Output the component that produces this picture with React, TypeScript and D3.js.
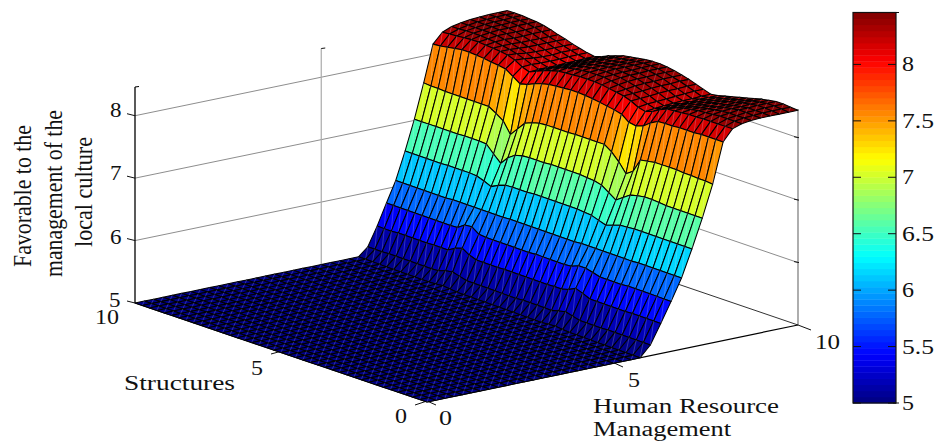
import React from "react";
import * as d3 from "d3";

// ---------- Data ----------
const hrmGrid = d3.range(0, 10.01, 0.25);
const structuresGrid = d3.range(0, 10.01, 0.25);
const colorTicks = ["5", "5.5", "6", "6.5", "7", "7.5", "8"];
const zTicks = [5, 6, 7, 8];
const floorLevel = 5;
const cMin = 5;
const cMax = 8.46;

const floorRow = structuresGrid.map(() => floorLevel);
const h600 = [5.0,5.0,5.0,5.0,5.0,5.0,5.0,5.0,5.0,5.0,5.0,5.01,5.02,5.01,5.0,5.0,5.0,5.0,5.0,5.0,5.0,5.0,5.0,5.0,5.0,5.0,5.0,5.01,5.02,5.01,5.0,5.0,5.0,5.0,5.0,5.0,5.0,5.0,5.0,5.0,5.0];
const h625 = [5.17,5.17,5.17,5.17,5.17,5.17,5.17,5.16,5.16,5.16,5.16,5.19,5.22,5.19,5.16,5.16,5.16,5.16,5.16,5.15,5.15,5.15,5.15,5.15,5.15,5.15,5.15,5.18,5.21,5.19,5.15,5.14,5.14,5.14,5.14,5.14,5.14,5.14,5.13,5.13,5.13];
const h650 = [5.48,5.48,5.48,5.48,5.48,5.47,5.47,5.47,5.47,5.47,5.47,5.52,5.56,5.50,5.47,5.47,5.46,5.46,5.46,5.46,5.46,5.46,5.46,5.45,5.45,5.45,5.45,5.49,5.56,5.52,5.45,5.45,5.45,5.44,5.44,5.44,5.44,5.44,5.43,5.43,5.43];
const h675 = [5.80,5.80,5.80,5.80,5.80,5.80,5.80,5.79,5.79,5.79,5.79,5.82,5.85,5.85,5.80,5.79,5.79,5.79,5.79,5.79,5.78,5.78,5.78,5.78,5.78,5.78,5.78,5.79,5.87,5.86,5.78,5.77,5.77,5.77,5.77,5.77,5.77,5.77,5.77,5.77,5.77];
const h700 = [6.14,6.14,6.14,6.14,6.14,6.14,6.14,6.13,6.13,6.13,6.13,6.13,6.13,6.13,6.13,6.12,6.12,6.12,6.12,6.12,6.12,6.12,6.12,6.12,6.12,6.11,6.11,6.11,6.11,6.11,6.11,6.11,6.11,6.10,6.10,6.10,6.10,6.10,6.10,6.10,6.10];
const h725 = [6.57,6.57,6.57,6.57,6.57,6.57,6.57,6.57,6.57,6.56,6.55,6.51,6.47,6.51,6.55,6.56,6.57,6.57,6.57,6.57,6.57,6.57,6.57,6.56,6.56,6.56,6.55,6.51,6.45,6.50,6.54,6.55,6.55,6.55,6.55,6.54,6.54,6.54,6.54,6.54,6.54];
const h750 = [7.03,7.03,7.03,7.03,7.03,7.03,7.04,7.05,7.05,7.03,7.00,6.92,6.84,6.92,7.00,7.03,7.04,7.05,7.05,7.05,7.05,7.05,7.04,7.04,7.04,7.03,7.00,6.92,6.79,6.90,7.02,7.03,7.03,7.03,7.02,7.02,7.02,7.02,7.02,7.02,7.02];
const h775 = [7.54,7.55,7.55,7.56,7.56,7.57,7.57,7.57,7.57,7.55,7.53,7.31,7.23,7.38,7.50,7.58,7.58,7.58,7.58,7.58,7.57,7.57,7.57,7.57,7.56,7.53,7.48,7.35,7.22,7.40,7.48,7.55,7.55,7.55,7.55,7.55,7.55,7.55,7.56,7.56,7.57];
const h800 = [8.18,8.18,8.18,8.18,8.17,8.17,8.17,8.16,8.16,8.15,8.09,8.00,7.96,7.98,8.07,8.10,8.12,8.14,8.16,8.17,8.18,8.18,8.17,8.16,8.15,8.12,8.08,8.03,8.00,8.08,8.16,8.18,8.19,8.21,8.22,8.23,8.23,8.21,8.19,8.17,8.16];
const h825 = [8.36,8.36,8.36,8.36,8.36,8.35,8.35,8.34,8.33,8.32,8.27,8.20,8.16,8.19,8.25,8.29,8.31,8.33,8.35,8.36,8.36,8.36,8.35,8.34,8.33,8.30,8.26,8.21,8.16,8.20,8.27,8.31,8.33,8.34,8.35,8.36,8.36,8.35,8.34,8.33,8.32];
const h850 = [8.41,8.41,8.41,8.41,8.40,8.39,8.38,8.36,8.34,8.31,8.27,8.22,8.18,8.21,8.26,8.30,8.33,8.36,8.38,8.40,8.40,8.40,8.39,8.37,8.35,8.31,8.27,8.22,8.17,8.21,8.26,8.30,8.33,8.35,8.37,8.38,8.39,8.39,8.39,8.38,8.38];
const h875 = [8.43,8.43,8.43,8.43,8.42,8.40,8.38,8.36,8.33,8.30,8.27,8.23,8.19,8.22,8.27,8.31,8.35,8.38,8.40,8.41,8.42,8.41,8.40,8.38,8.35,8.31,8.27,8.22,8.17,8.20,8.24,8.28,8.32,8.35,8.38,8.40,8.41,8.41,8.41,8.41,8.41];
const h900 = [8.44,8.44,8.45,8.45,8.43,8.41,8.38,8.35,8.33,8.30,8.27,8.23,8.20,8.23,8.28,8.32,8.36,8.39,8.41,8.42,8.43,8.42,8.40,8.38,8.35,8.31,8.27,8.22,8.17,8.20,8.23,8.27,8.31,8.34,8.37,8.40,8.42,8.43,8.43,8.43,8.43];
const h925 = [8.44,8.45,8.45,8.45,8.43,8.41,8.38,8.36,8.33,8.30,8.27,8.23,8.21,8.24,8.29,8.33,8.36,8.39,8.41,8.42,8.43,8.42,8.40,8.38,8.36,8.31,8.27,8.22,8.18,8.20,8.23,8.27,8.31,8.34,8.37,8.40,8.42,8.43,8.44,8.44,8.44];
const h950 = [8.44,8.45,8.46,8.46,8.44,8.42,8.39,8.36,8.33,8.30,8.27,8.24,8.21,8.25,8.29,8.33,8.37,8.40,8.42,8.43,8.43,8.42,8.40,8.38,8.36,8.32,8.28,8.23,8.18,8.21,8.24,8.27,8.31,8.34,8.38,8.40,8.43,8.44,8.44,8.45,8.45];
const h975 = [8.44,8.45,8.46,8.46,8.44,8.42,8.39,8.36,8.33,8.30,8.27,8.24,8.22,8.26,8.30,8.34,8.37,8.40,8.42,8.43,8.43,8.42,8.40,8.38,8.36,8.32,8.28,8.23,8.19,8.21,8.24,8.27,8.31,8.34,8.38,8.41,8.43,8.44,8.45,8.45,8.45];
const h1000 = [8.44,8.45,8.46,8.46,8.44,8.42,8.39,8.36,8.33,8.30,8.27,8.24,8.22,8.26,8.30,8.34,8.37,8.40,8.42,8.43,8.43,8.42,8.40,8.38,8.36,8.32,8.28,8.23,8.19,8.21,8.24,8.27,8.31,8.34,8.38,8.41,8.43,8.44,8.45,8.45,8.45];

const floorRows = hrmGrid.filter((h) => h < 6).map(() => floorRow);
const zRows = [...floorRows, h600, h625, h650, h675, h700, h725, h750, h775, h800, h825, h850, h875, h900, h925, h950, h975, h1000];

// ---------- Projection ----------
const A = [427, 402];
const B = [798, 325];
const C = [135, 303];
const D = [507.5, 226];
const uNear = d3.scaleLinear().domain([0, 6, 8, 10]).range([0, 0.574, 0.798, 1]);
const uFar = d3.scaleLinear().domain([0, 10]).range([0, 1]);
const sScale = d3.scaleLinear().domain([0, 10]).range([0, 1]);
const zPx = d3.scaleLinear().domain([5, 8.46]).range([0, 216]);

function project(h: number, s: number, z: number): [number, number] {
  const v = sScale(s);
  const u = uFar(h) * v + uNear(h) * (1 - v);
  const x = A[0] * (1 - u) * (1 - v) + B[0] * u * (1 - v) + C[0] * (1 - u) * v + D[0] * u * v;
  const y = A[1] * (1 - u) * (1 - v) + B[1] * u * (1 - v) + C[1] * (1 - u) * v + D[1] * u * v;
  return [x, y - zPx(z)];
}

// ---------- Colour ----------
function jet(t: number): string {
  const clamp = (a: number) => Math.max(0, Math.min(1, a));
  const r = clamp(Math.min(4 * t - 1.5, -4 * t + 4.5));
  const g = clamp(Math.min(4 * t - 0.5, -4 * t + 3.5));
  const b = clamp(Math.min(4 * t + 0.5, -4 * t + 2.5));
  return `rgb(${Math.round(r * 255)},${Math.round(g * 255)},${Math.round(b * 255)})`;
}
const levels = d3.range(64);
const levelOf = d3.scaleQuantize<number>().domain([cMin, cMax]).range(levels);
const levelColor = (l: number) => jet((l + 0.5) / 64);

const lineGen = d3.line();

const serif = "'Liberation Serif', serif";

function Label(p: { x: number; y: number; w: number; size?: number; t: string; rot?: boolean }) {
  return (
    <text
      x={p.rot ? 0 : p.x}
      y={p.rot ? 0 : p.y}
      transform={p.rot ? `translate(${p.x},${p.y}) rotate(-90)` : undefined}
      fontFamily={serif}
      fontSize={p.size ?? 20}
      fill="#111"
      textLength={p.w}
      lengthAdjust="spacingAndGlyphs"
    >
      {p.t}
    </text>
  );
}

export default function App() {
  const cells: React.ReactNode[] = [];
  for (let i = hrmGrid.length - 2; i >= 0; i--) {
    for (let j = structuresGrid.length - 2; j >= 0; j--) {
      const h0 = hrmGrid[i], h1 = hrmGrid[i + 1], s0 = structuresGrid[j], s1 = structuresGrid[j + 1];
      const p00 = project(h0, s0, zRows[i][j]);
      const p01 = project(h0, s1, zRows[i][j + 1]);
      const p11 = project(h1, s1, zRows[i + 1][j + 1]);
      const p10 = project(h1, s0, zRows[i + 1][j]);
      const col = levelColor(levelOf(zRows[i][j]));
      cells.push(
        <g key={`${i}-${j}`}>
          <path d={lineGen([p00, p01, p11, p10])! + "Z"} fill={col} stroke="#000" strokeWidth={1.05} strokeLinejoin="round" />
          <path d={lineGen([p00, p11])!} fill="none" stroke="rgba(215,225,255,0.33)" strokeWidth={0.7} />
        </g>
      );
    }
  }

  const cbX = 853, cbW = 43, cbTop = 12.5, cbBottom = 403;
  const cbY = d3.scaleLinear().domain([cMin, cMax]).range([cbBottom, cbTop]);
  const bandH = (cbBottom - cbTop) / 64;
  const cbTickValues = colorTicks.map(Number);
  const cbLabelW: Record<string, number> = { "5": 12, "5.5": 32, "6": 12, "6.5": 32, "7": 12, "7.5": 32, "8": 12 };

  const gridZ = zTicks.filter((z) => z > 5);
  const tickStroke = "#111";

  return (
    <svg width={936} height={443} style={{ position: "absolute", left: 0, top: 0, background: "#fff" }}>
      {/* walls */}
      {gridZ.map((z) => {
        const a = project(0, 10, z), b = project(10, 10, z), c = project(10, 0, z);
        return <path key={z} d={lineGen([a, b, c])!} fill="none" stroke="#808080" strokeWidth={0.9} />;
      })}
      <path d={lineGen([project(5, 10, 5), project(5, 10, 8.46)])!} stroke="#aaa" strokeWidth={1.2} fill="none" />
      <path d={lineGen([project(5, 10, 8.46), [project(5, 10, 8.46)[0] + 4, project(5, 10, 8.46)[1] - 0.5]])!} stroke="#111" strokeWidth={1} fill="none" />
      <path d={lineGen([project(10, 0, 5), project(10, 0, 8.46)])!} stroke="#777" strokeWidth={1.2} fill="none" />
      <path d={lineGen([project(10, 10, 5), project(10, 0, 5)])!} stroke="#333" strokeWidth={1} fill="none" />
      <path d={lineGen([project(0, 0, 5), project(10, 0, 5)])!} stroke="#000" strokeWidth={1.2} fill="none" />
      <path d={lineGen([project(0, 10, 5), project(0, 0, 5)])!} stroke="#000" strokeWidth={1.2} fill="none" />
      <path d={lineGen([project(0, 10, 5), project(0, 10, 8.46)])!} stroke="#000" strokeWidth={1.3} fill="none" />
      <path d={lineGen([project(0, 10, 8.46), [project(0, 10, 8.46)[0] + 4, project(0, 10, 8.46)[1] - 0.5]])!} stroke="#000" strokeWidth={1.2} fill="none" />
      {zTicks.map((z) => {
        const p = project(0, 10, z);
        return <path key={z} d={lineGen([[p[0] - 8, p[1] - 2], p])!} stroke={tickStroke} strokeWidth={1} fill="none" />;
      })}
      {zTicks.filter((z) => z > 5).map((z) => {
        const p = project(10, 0, z);
        return <path key={z} d={lineGen([[p[0] - 4, p[1] - 1], [p[0] + 1, p[1]]])!} stroke={tickStroke} strokeWidth={1} fill="none" />;
      })}
      {/* axis ticks on the floor */}
      <path d={lineGen([[415, 405], [427, 401]])!} stroke={tickStroke} strokeWidth={1} fill="none" />
      <path d={lineGen([[427, 401], [436, 405]])!} stroke={tickStroke} strokeWidth={1} fill="none" />
      <path d={lineGen([[271, 354], [282, 351]])!} stroke={tickStroke} strokeWidth={1} fill="none" />
      <path d={lineGen([[612, 362], [623, 367]])!} stroke={tickStroke} strokeWidth={1} fill="none" />
      <path d={lineGen([[798, 325], [811, 330]])!} stroke={tickStroke} strokeWidth={1} fill="none" />

      {cells}

      {/* tick labels */}
      <Label x={110} y={117} w={11.5} size={21} t="8" />
      <Label x={110} y={180} w={11.5} size={21} t="7" />
      <Label x={110} y={244} w={11.5} size={21} t="6" />
      <Label x={109} y={307} w={11.5} size={21} t="5" />
      <Label x={95} y={324} w={24} size={21} t="10" />
      <Label x={251} y={375} w={12} size={21} t="5" />
      <Label x={395} y={423} w={12} size={21} t="0" />
      <Label x={439} y={425} w={13} size={21} t="0" />
      <Label x={628} y={387} w={12} size={21} t="5" />
      <Label x={815} y={349} w={25} size={21} t="10" />

      {/* axis titles */}
      <Label x={124} y={390} w={111} size={20} t="Structures" />
      <Label x={593} y={413} w={186} size={20} t="Human Resource" />
      <Label x={593} y={436} w={138} size={20} t="Management" />
      <Label x={31} y={267} w={142} size={25} t="Favorable to the" rot />
      <Label x={62} y={277} w={167} size={25} t="management of the" rot />
      <Label x={92} y={247} w={110} size={25} t="local culture" rot />

      {/* colour bar */}
      {levels.map((l) => (
        <rect key={l} x={cbX} width={cbW} y={cbBottom - (l + 1) * bandH} height={bandH + 0.4} fill={levelColor(l)} />
      ))}
      <rect x={cbX} y={cbTop} width={cbW} height={cbBottom - cbTop} fill="none" stroke="#111" strokeWidth={1.2} />
      {cbTickValues.map((v, i) => {
        const y = cbY(v);
        return (
          <g key={v}>
            <path d={lineGen([[cbX, y], [cbX + 8, y]])!} stroke="#111" strokeWidth={1} />
            <path d={lineGen([[cbX + cbW - 8, y], [cbX + cbW, y]])!} stroke="#111" strokeWidth={1} />
            <Label x={902} y={y + 7} w={cbLabelW[colorTicks[i]]} size={21} t={colorTicks[i]} />
          </g>
        );
      })}
      <path d={lineGen([[cbX + cbW - 3, cbTop], [cbX + cbW + 3, cbTop]])!} stroke="#111" strokeWidth={1} />
      <path d={lineGen([[cbX + cbW - 3, cbBottom], [cbX + cbW + 3, cbBottom]])!} stroke="#111" strokeWidth={1} />
    </svg>
  );
}
